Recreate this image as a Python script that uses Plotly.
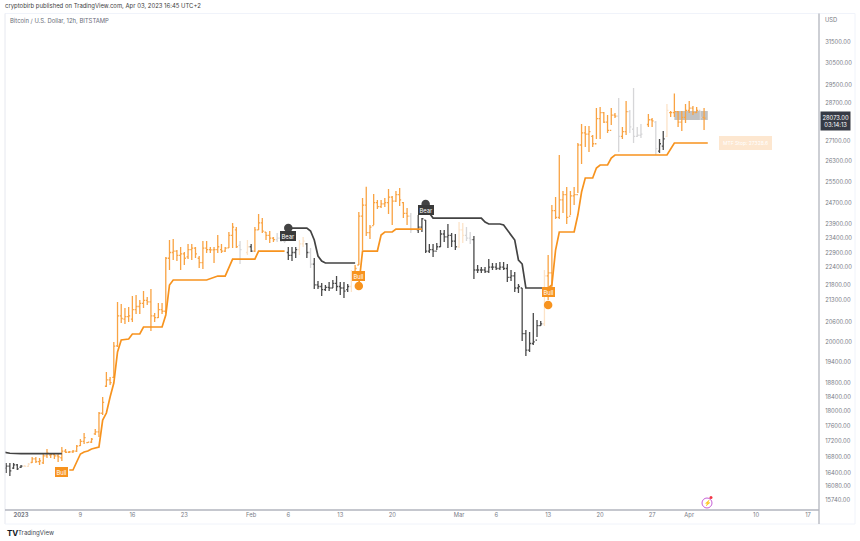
import math
import pandas as pd
import plotly.graph_objects as go

bar_dates = pd.date_range("2022-12-30", periods=189, freq="12h")

high = [
 16647,16647,16647,16622,16597,16597,16647,16799,16799,16774,
 16901,17004,16901,16901,16901,17056,17004,16952,16978,17107,
 17263,17421,17185,17290,17527,17983,18396,19107,18963,19995,
 21245,21180,21053,21085,21440,21472,21309,21601,21407,21667,
 20894,21213,21213,22741,23336,23371,22985,23088,22916,23195,
 23195,23092,22776,23300,23300,23092,23092,23511,23195,23092,
 23622,23950,23800,23300,None,23336,23195,23800,24272,24126,
 23622,23657,23442,23585,23442,23407,23092,23092,23092,23336,
 23442,23230,23055,22707,21932,21867,21801,21899,21964,22097,
 21899,21899,21834,22299,22468,24347,24870,25300,23872,25020,
 24794,24794,24870,25210,24945,25134,25249,24719,24495,24310,
 None,24237,24126,24054,23195,23195,23230,23692,23692,23910,
 23585,23549,23982,23950,23800,23622,23478,22468,22400,22400,
 22673,22537,22537,22571,22571,22503,22299,22233,21834,21700,
 20362,20300,20894,20673,20642,22299,22811,24607,24907,26543,
 25134,25287,25134,25287,27030,27820,27735,27735,27360,28500,
 28542,28330,28202,28500,28288,28937,27692,28807,28416,29378,
 27692,27820,None,28245,28075,27947,27195,27527,28675,28373,
 29137,28373,28373,28675,28807,28590,28542,28373,28500]
low = [
 16397,16322,16497,16471,16521,16546,16546,16647,16647,16597,
 16622,16774,16774,16748,16672,16697,16901,16901,16901,16927,
 17081,17133,17159,17159,17369,17316,17904,18678,18734,18934,
 19845,20580,20550,20610,20610,20862,20862,21053,21148,20332,
 20610,20736,20862,20894,22299,22639,22606,22299,22468,22673,
 22639,22707,22366,22333,22880,22880,22537,22880,22880,22915,
 23055,23055,23055,22503,None,22811,22915,22915,23692,23585,
 23336,23230,23265,23265,23265,23230,22639,22606,22707,22811,
 23092,22707,22366,21667,21667,21440,21601,21601,21700,21601,
 21472,21374,21569,21569,22233,22468,22985,23478,23371,23872,
 24458,24495,24532,24274,23872,24719,24570,24126,23872,23585,
 None,23585,23622,22880,22880,22741,22985,23092,23265,23055,
 23092,22985,23055,23230,23300,23195,21997,22200,22200,22200,
 22200,22299,22299,22299,22299,21899,21932,21569,21537,20026,
 19576,19695,19905,20146,20486,20486,21309,21634,24090,24090,
 24310,23910,24237,24607,25059,26185,26866,26666,26866,27195,
 27195,27865,27445,27780,28075,26666,27195,27360,27445,27030,
 27277,27236,None,27692,27692,26544,26625,26745,27277,28117,
 28117,27692,27527,27865,28288,28202,28288,27989,27568]
open_ = [
 16520,16570,16520,16600,16540,16570,16560,16660,16750,16680,
 16650,16830,16850,16860,16830,16780,16950,16920,16930,16950,
 17090,17200,17170,17180,17400,17450,17950,18700,18880,18950,
 19880,20800,20700,20780,20700,21000,21100,21200,21300,21250,
 20800,20750,21000,20950,22700,22900,22950,22800,22850,22750,
 23000,23050,22700,22550,23050,23000,22990,23000,23000,22950,
 23060,23500,23700,23150,None,22900,23100,22950,23700,23950,
 23620,23500,23400,23350,23400,23300,22900,22800,22900,23000,
 23200,23200,22900,22500,21800,21750,21650,21720,21700,21850,
 21750,21700,21650,21750,22250,22470,24200,24600,23600,23850,
 24700,24550,24650,24700,24900,24750,25000,24700,24300,24200,
 None,23700,23800,24050,22950,23000,22950,23100,23550,23450,
 23500,23300,23100,23700,23500,23400,23350,22300,22300,22300,
 22250,22400,22400,22350,22400,22350,22050,22100,21700,21700,
 20250,19750,19950,20050,20500,20550,22100,22200,24400,24150,
 24800,25000,24200,24950,25000,26950,27450,27400,27300,27000,
 28050,28300,27900,27550,28200,28150,27300,27500,28350,27600,
 27300,27350,None,27800,28000,27900,26700,26900,27300,28300,
 28300,28350,27900,28100,28400,28500,28300,28400,28100]
close = [
 16570,16450,16600,16500,16570,16560,16620,16750,16680,16700,
 16830,16900,16860,16830,16800,16950,16920,16930,16950,17080,
 17200,17300,17180,17260,17450,17950,18250,18880,18800,19870,
 20800,20720,20780,20800,21000,21100,21200,21300,21250,20800,
 20750,21000,20950,22700,22900,22950,22800,22850,22700,23000,
 23050,22850,22550,23050,23000,22990,23000,23100,22950,23050,
 23500,23800,23100,23000,None,23100,22950,23700,23950,23650,
 23500,23400,23350,23400,23300,23300,22800,22900,23000,23200,
 23300,22900,22500,21800,21750,21650,21720,21700,21850,21750,
 21700,21600,21750,22000,22350,24200,24600,23600,23800,24700,
 24550,24650,24700,24900,24750,25000,24800,24300,24200,23700,
 None,23800,24100,22950,23000,22950,23100,23550,23450,23500,
 23300,23100,23700,23500,23400,23350,22300,22300,22300,22250,
 22400,22400,22350,22400,22350,22050,22100,21700,21750,20250,
 19750,19950,20000,20500,20550,22100,22200,24400,24150,24800,
 25000,24150,24950,25000,26950,27450,27400,27500,27000,28050,
 28300,27900,27550,28200,28150,27300,27500,28350,27700,27300,
 27350,27400,None,28000,27950,26800,27000,27200,28400,28300,
 28350,27900,28100,28400,28500,28300,28400,28100,28073]
# state of each bar: O orange, K dark, G grey, P peach, X no bar drawn
state = ("KKKKKPPOOO" "OOOOOOOOOO" "OOOOOOOOOO" "OOOOOOOOOO" "OOOOOOOOOO"
         "OOOOOOOOOO" "OOOGXPKOOO" "OOOGGGKKKP" "PKGKKKKKKK" "KKKPOOOOOO"
         "OOOOOOOOOG" "XKKKKKKKKK" "KKPPGGKKKK" "KKKKKKKKKK" "KKKKKPOOOO"
         "OOOOOOOOOO" "OOOOOGOOGG" "GGXOOGKKPO" "OOOOOOOGO")
assert len(state) == len(high) == len(low) == len(open_) == len(close) == 189

bar_colors = {"O": "#f9a343", "K": "#4a4a4a", "G": "#d6d6d8", "P": "#fce3c8"}

orange_dates_1 = ["2023-01-07 12:00","2023-01-08 00:00","2023-01-08 12:00","2023-01-09 00:00","2023-01-09 12:00",
 "2023-01-10 00:00","2023-01-10 12:00","2023-01-11 00:00","2023-01-11 12:00","2023-01-12 00:00","2023-01-12 12:00",
 "2023-01-13 00:00","2023-01-13 12:00","2023-01-14 00:00","2023-01-14 12:00","2023-01-15 12:00","2023-01-16 00:00",
 "2023-01-17 00:00","2023-01-17 12:00","2023-01-20 00:00","2023-01-20 12:00","2023-01-21 00:00","2023-01-21 12:00",
 "2023-01-26 00:00","2023-01-27 12:00","2023-01-28 12:00","2023-01-29 12:00","2023-02-01 12:00","2023-02-02 00:00","2023-02-05 12:00"]
orange_vals_1 = [16471,16471,16672,16875,16927,16952,17004,17030,17056,17767,17956,18396,18791,19695,20056,20087,20240,
 20240,20456,20456,20832,21799,21964,21964,22097,22097,22673,22673,22950,22950]

dark_dates_0 = ["2022-12-29 12:00","2022-12-30 12:00","2023-01-01 00:00","2023-01-06 12:00"]
dark_vals_0 = [16927,16895,16885,16885]

dark_dates_1 = ["2023-02-06 00:00","2023-02-08 12:00","2023-02-09 00:00","2023-02-09 12:00","2023-02-10 00:00",
 "2023-02-10 12:00","2023-02-11 00:00","2023-02-15 00:00"]
dark_vals_1 = [23764,23764,23656,23336,22776,22606,22537,22537]

orange_dates_2 = ["2023-02-15 12:00","2023-02-16 00:00","2023-02-18 00:00","2023-02-18 12:00","2023-02-19 00:00",
 "2023-02-20 00:00","2023-02-20 12:00","2023-02-24 00:00"]
orange_vals_2 = [21799,22950,22950,23512,23622,23622,23728,23728]

dark_dates_2 = ["2023-02-24 12:00","2023-02-25 00:00","2023-02-25 12:00","2023-03-04 00:00","2023-03-04 12:00",
 "2023-03-05 00:00","2023-03-06 12:00","2023-03-07 00:00","2023-03-08 12:00","2023-03-09 00:00","2023-03-09 12:00",
 "2023-03-10 00:00","2023-03-13 00:00"]
dark_vals_2 = [24555,24310,24126,24126,23982,23910,23910,23872,23336,22639,22503,21700,21700]

orange_dates_3 = ["2023-03-13 00:00","2023-03-13 12:00","2023-03-14 00:00","2023-03-14 12:00","2023-03-16 12:00",
 "2023-03-17 00:00","2023-03-17 12:00","2023-03-18 00:00","2023-03-19 00:00","2023-03-19 12:00","2023-03-20 00:00",
 "2023-03-21 00:00","2023-03-21 12:00","2023-03-22 00:00","2023-03-29 00:00","2023-03-30 00:00","2023-04-03 12:00"]
orange_vals_3 = [21700,21799,22985,23622,23622,24237,25096,25635,25635,26026,26145,26145,26424,26544,26544,27030,27030]

signal_dates = ["2023-02-06 00:00","2023-02-24 12:00","2023-02-15 12:00","2023-03-13 00:00"]
signal_vals = [23764,24647,21766,21148]
signal_kinds = ["Bear","Bear","Bull","Bull"]

label_dates = ["2023-01-06 12:00","2023-02-06 00:00","2023-02-24 12:00","2023-02-15 12:00","2023-03-13 00:00"]
label_vals = [16421,23478,24421,22097,21569]
label_texts = ["Bull","Bear","Bear","Bull","Bull"]

y_ticks = [31500,30500,29500,28700,27100,26300,25500,24700,23900,23400,22900,22400,21800,21300,20600,20000,
           19400,18800,18400,18000,17600,17200,16800,16400,16080,15740]
x_tick_dates = ["2023-01-01","2023-01-09","2023-01-16","2023-01-23","2023-02-01","2023-02-06","2023-02-13","2023-02-20",
                "2023-03-01","2023-03-06","2023-03-13","2023-03-20","2023-03-27","2023-04-01","2023-04-10","2023-04-17"]
x_tick_text = ["<b>2023</b>","9","16","23","Feb","6","13","20","Mar","6","13","20","27","Apr","10","17"]

ORANGE = "#f7931e"
DARK = "#434343"
TXT = "#787b86"
FONT = "Inter"

fig = go.Figure()
for code, colour in bar_colors.items():
    idx = [i for i, s in enumerate(state) if s == code]
    fig.add_trace(go.Ohlc(
        x=[bar_dates[i] for i in idx],
        open=[open_[i] for i in idx], high=[high[i] for i in idx],
        low=[low[i] for i in idx], close=[close[i] for i in idx],
        increasing_line_color=colour, decreasing_line_color=colour,
        line_width=1.3, tickwidth=0.4, showlegend=False, hoverinfo="skip"))

for dates, vals, colour in [(dark_dates_0, dark_vals_0, DARK), (orange_dates_1, orange_vals_1, ORANGE),
                            (dark_dates_1, dark_vals_1, DARK), (orange_dates_2, orange_vals_2, ORANGE),
                            (dark_dates_2, dark_vals_2, DARK), (orange_dates_3, orange_vals_3, ORANGE)]:
    fig.add_trace(go.Scatter(x=dates, y=vals, mode="lines", line=dict(color=colour, width=1.7),
                             showlegend=False, hoverinfo="skip"))

fig.add_trace(go.Scatter(x=signal_dates, y=signal_vals, mode="markers",
                         marker=dict(size=8.5, color=[DARK if k == "Bear" else ORANGE for k in signal_kinds]),
                         showlegend=False, hoverinfo="skip"))

annotations = []
for d, v, t in zip(label_dates, label_vals, label_texts):
    bg = ORANGE if t == "Bull" else "#3a3a3a"
    annotations.append(dict(x=d, y=math.log10(v), xref="x", yref="y", text=t, showarrow=False,
                            font=dict(family=FONT, size=5.8, color="white"), bgcolor=bg, bordercolor=bg,
                            borderwidth=1, borderpad=0.5))

def px(x, y):
    return (x - 5) / 814, (510 - y) / 496

def note(x, y, text, size=5.8, color=TXT, xanchor="left", **kw):
    xp, yp = px(x, y)
    annotations.append(dict(x=xp, y=yp, xref="paper", yref="paper", text=text, showarrow=False,
                            xanchor=xanchor, yanchor="middle", font=dict(family=FONT, size=size, color=color), **kw))

note(3, 6.5, "cryptobirb published on TradingView.com, Apr 03, 2023 16:45 UTC+2", 5.95, "#3d3d3d")
note(7.5, 20.5, "Bitcoin / U.S. Dollar, 12h, BITSTAMP", 5.9, "#6a6d78")
note(823, 19, "USD", 5.8)
note(820, 120.5, "28073.00<br>03:14:13", 5.8, "white", bgcolor="#363a45", borderpad=1.5, align="center")
note(745, 143, "MTF Stop: 27328.6", 5, "#ffffff", xanchor="center", bgcolor="#fde7d0", bordercolor="#fde7d0", borderpad=3)
note(5, 532.5, "<b>TV</b>", 8, "#131722")
note(15.5, 532.5, "TradingView", 6.1, "#434651")
note(707, 503, "⚡", 6, "#b04fd0", xanchor="center")

shapes = [
    dict(type="rect", xref="x", yref="y", x0="2023-03-30 00:00", x1="2023-04-03 12:00",
         y0=27989, y1=28373, fillcolor="rgba(110,110,110,0.42)", line_width=0, layer="below"),
]
def paper_line(x0, y0, x1, y1, color, width):
    a, b = px(x0, y0); c, d = px(x1, y1)
    shapes.append(dict(type="line", xref="paper", yref="paper", x0=a, y0=b, x1=c, y1=d,
                       line=dict(color=color, width=width)))
paper_line(5, 13.5, 855, 13.5, "#f0f3fa", 1)
paper_line(5, 13.5, 5, 524, "#e6e8ef", 1)
paper_line(855, 13.5, 855, 524, "#f0f3fa", 1)
paper_line(5, 524, 855, 524, "#f0f3fa", 1)
paper_line(819, 13.5, 819, 524, "#b2b5be", 1.3)
paper_line(5, 510, 819, 510, "#b2b5be", 1.3)
a, b = px(702, 498); c, d = px(712, 508)
shapes.append(dict(type="circle", xref="paper", yref="paper", x0=a, y0=b, x1=c, y1=d,
                   line=dict(color="#c65fd6", width=1)))
a, b = px(709.5, 496); c, d = px(712.5, 499)
shapes.append(dict(type="circle", xref="paper", yref="paper", x0=a, y0=b, x1=c, y1=d,
                   fillcolor="#f23645", line_width=0))

fig.update_layout(
    width=860, height=541, margin=dict(l=5, r=41, t=14, b=31),
    paper_bgcolor="white", plot_bgcolor="white", showlegend=False,
    annotations=annotations, shapes=shapes,
    font=dict(family=FONT, size=5.8, color=TXT),
    xaxis=dict(type="date", range=["2022-12-29 20:17", "2023-04-18 11:30"], rangeslider=dict(visible=False),
               tickmode="array", tickvals=x_tick_dates, ticktext=x_tick_text, showgrid=False, zeroline=False,
               ticks="", tickangle=0, tickfont=dict(family=FONT, size=5.8, color=TXT)),
    yaxis=dict(type="log", range=[4.19041, 4.51673], side="right", tickmode="array", tickvals=y_ticks,
               ticktext=[f"{v:.2f}" for v in y_ticks], showgrid=False, zeroline=False,
               ticks="outside", ticklen=4, tickcolor="white", tickfont=dict(family=FONT, size=5.8, color=TXT)),
)
fig.write_html("out.html", post_script="document.body.style.margin='0';", config={"displayModeBar": False})
